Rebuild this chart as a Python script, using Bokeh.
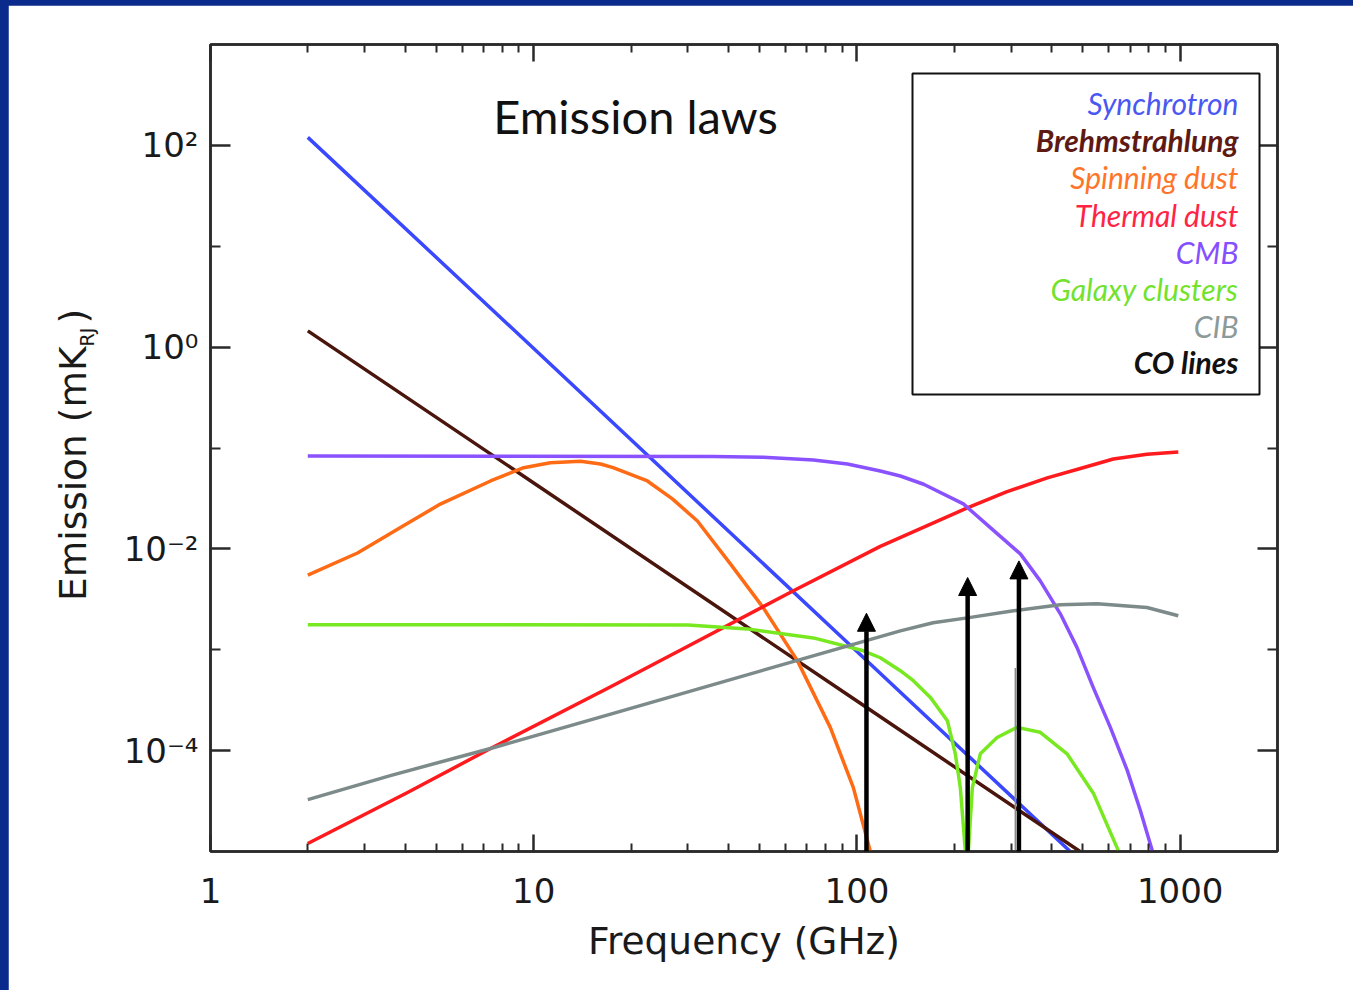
import math

from bokeh.embed import file_html
from bokeh.layouts import column
from bokeh.models import (Arrow, BoxAnnotation, ColumnDataSource, FixedTicker,
                          Label, LogAxis, NormalHead, Range1d)
from bokeh.plotting import figure
from bokeh.resources import INLINE

# ---------------------------------------------------------------------------
# Emission laws of the microwave foregrounds, frequency in GHz, emission in mK_RJ
# ---------------------------------------------------------------------------
sync_freq = [2.0, 10.0, 100.0, 457.0]
sync_val = [120.0, 0.97, 9.6e-4, 1.0e-5]

brems_freq = [2.0, 10.0, 100.0, 490.0]
brems_val = [1.45, 0.045, 3.1e-4, 1.0e-5]

spin_freq = [2.0, 2.85, 3.87, 5.14, 7.35, 9.31, 11.25, 12.99, 13.95, 16.1, 17.6,
             22.47, 26.85, 32.09, 40.59, 51.34, 65.41, 82.74, 97.46, 110.0]
spin_val = [0.0055, 0.0091, 0.0163, 0.0278, 0.0471, 0.0638, 0.0714, 0.0731, 0.0740,
            0.0694, 0.0638, 0.0471, 0.0313, 0.0189, 0.0071, 0.0026, 7.8e-4, 1.69e-4,
            4.3e-5, 1.0e-5]

dust_freq = [2.0, 4.07, 7.35, 17.3, 28.4, 63.6, 118.1, 219.5, 290.0, 388.0, 491.0,
             621.0, 789.0, 986.5]
dust_val = [1.2e-5, 3.84e-5, 1.05e-4, 4.3e-4, 9.9e-4, 3.84e-3, 1.06e-2, 2.55e-2,
            3.67e-2, 5.05e-2, 6.27e-2, 7.78e-2, 8.66e-2, 9.13e-2]

cmb_freq = [2.0, 36.0, 51.3, 73.3, 93.4, 118.1, 136.2, 160.8, 213.4, 258.6, 320.3,
            369.0, 425.8, 479.6, 538.5, 608.0, 686.2, 752.8, 819.8]
cmb_val = [0.0833, 0.0825, 0.0810, 0.0760, 0.0694, 0.0592, 0.0528, 0.0437, 0.0279,
           0.01625, 0.00892, 0.00482, 0.00227, 0.00105, 4.21e-4, 1.70e-4, 6.34e-5,
           2.55e-5, 1.02e-5]

sz_freq = [2.0, 30.0, 45.8, 73.3, 104.7, 118.1, 136.2, 149.4, 168.7, 190.4, 201.5,
           208.8, 216.4, 218.5, 221.1, 227.5, 240.8, 271.3, 312.6, 369.0, 446.6,
           539.9, 643.5]
sz_val = [0.00177, 0.00176, 0.00161, 0.00131, 9.77e-4, 8.33e-4, 6.2e-4, 4.93e-4,
          3.37e-4, 1.98e-4, 9.3e-5, 4.3e-5, 1.02e-5, 1.0e-6, 1.0e-5, 4.3e-5, 9.3e-5,
          1.35e-4, 1.70e-4, 1.52e-4, 9.3e-5, 3.73e-5, 1.02e-5]

cib_freq = [2.0, 3.6, 7.35, 17.3, 65.4, 136.2, 172.0, 219.5, 305.0, 425.8, 554.0,
            789.0, 986.5]
cib_val = [3.27e-5, 5.66e-5, 1.05e-4, 2.3e-4, 7.85e-4, 1.54e-3, 1.85e-3, 2.07e-3,
           2.43e-3, 2.79e-3, 2.85e-3, 2.62e-3, 2.17e-3]

# CO rotational lines drawn as arrows rising from the lower edge
co_freq = [107.0, 220.0, 317.0]
co_top = [2.3e-3, 5.2e-3, 7.6e-3]
co_base = [1.0e-5, 1.0e-5, 1.0e-5]

# faint marker just below the third CO line
guide_freq = [309.0]
guide_top = [6.6e-4]
guide_base = [1.0e-5]

x_major = [1, 10, 100, 1000]
x_minor = [m * d for d in (1, 10, 100) for m in range(2, 10)]
x_tick_labels = ["1", "10", "100", "1000"]

y_major = [1e-4, 1e-2, 1.0, 1e2]
y_minor = [1e-3, 1e-1, 1e1]
y_tick_labels = ["10\u207b\u2074", "10\u207b\u00b2", "10\u2070", "10\u00b2"]

series = [
    ("Synchrotron", sync_freq, sync_val, "#3a48ff", "#4a58f2", "italic"),
    ("Brehmstrahlung", brems_freq, brems_val, "#4a150c", "#5e1a12", "bold italic"),
    ("Spinning dust", spin_freq, spin_val, "#ff6a14", "#ff7428", "italic"),
    ("Thermal dust", dust_freq, dust_val, "#ff1a1e", "#ff2444", "italic"),
    ("CMB", cmb_freq, cmb_val, "#8a52ff", "#8450ff", "italic"),
    ("Galaxy clusters", sz_freq, sz_val, "#78e820", "#72e22c", "italic"),
    ("CIB", cib_freq, cib_val, "#7c8a8a", "#8c9a9a", "italic"),
]
co_label = ("CO lines", "#111111", "bold italic")

AXIS_COLOR = "#2a2a2a"
TEXT_COLOR = "#1a1a1a"
TICK_FONT = "DejaVu Sans"
NAVY = "#0a2a8c"

# the plot sits inside a navy page edge (8 px left, 5 px top)
OX, OY = 8, 5
W, H = 1353 - OX, 990 - OY

plot = figure(width=W, height=H, x_axis_type="log", y_axis_type="log",
              x_range=Range1d(1, 2000), y_range=Range1d(1e-5, 1e3),
              output_backend="svg", toolbar_location=None,
              min_border_left=210 - OX, min_border_right=76,
              min_border_top=44 - OY, min_border_bottom=139,
              background_fill_color="white", border_fill_color="white")
plot.grid.visible = False
plot.outline_line_color = AXIS_COLOR
plot.outline_line_width = 2.5

bottom_axis = plot.below[0]
left_axis = plot.left[0]

# curves
for name, f, v, line_color, _, _ in series:
    plot.line(f, v, line_color=line_color, line_width=3.5, line_join="round")

plot.segment(x0=guide_freq, y0=guide_base, x1=guide_freq, y1=guide_top,
             line_color="#8a8a8a", line_width=1.5)

co_src = ColumnDataSource(dict(f=co_freq, base=co_base, top=co_top))
plot.add_layout(Arrow(end=NormalHead(size=18, fill_color="black", line_color="black",
                                     line_width=1),
                      x_start="f", y_start="base", x_end="f", y_end="top",
                      source=co_src, line_color="black", line_width=4.5))

# axes: ticks point inwards on all four sides
top_axis = LogAxis()
right_axis = LogAxis()
plot.add_layout(top_axis, "above")
plot.add_layout(right_axis, "right")

for ax in (bottom_axis, top_axis):
    ax.ticker = FixedTicker(ticks=x_major, minor_ticks=x_minor)
    ax.major_tick_in, ax.major_tick_out = 17, 0
    ax.minor_tick_in, ax.minor_tick_out = 8, 0
for ax in (left_axis, right_axis):
    ax.ticker = FixedTicker(ticks=y_major, minor_ticks=y_minor)
    ax.major_tick_in, ax.major_tick_out = 20, 0
    ax.minor_tick_in, ax.minor_tick_out = 10, 0

for ax in (bottom_axis, top_axis, left_axis, right_axis):
    ax.axis_line_color = AXIS_COLOR
    ax.axis_line_width = 2.5
    ax.major_tick_line_color = AXIS_COLOR
    ax.major_tick_line_width = 2.5
    ax.minor_tick_line_color = AXIS_COLOR
    ax.minor_tick_line_width = 2
    ax.major_label_text_font = TICK_FONT
    ax.major_label_text_color = TEXT_COLOR

bottom_axis.major_label_overrides = dict(zip(x_major, x_tick_labels))
bottom_axis.major_label_text_font_size = "34px"
bottom_axis.major_label_standoff = 26
bottom_axis.axis_label = "Frequency (GHz)"
bottom_axis.axis_label_text_font = TICK_FONT
bottom_axis.axis_label_text_font_size = "37.5px"
bottom_axis.axis_label_text_font_style = "normal"
bottom_axis.axis_label_text_color = TEXT_COLOR
bottom_axis.axis_label_standoff = 13

left_axis.major_label_overrides = dict(zip(y_major, y_tick_labels))
left_axis.major_label_text_font_size = "34px"
left_axis.major_label_standoff = 12

for ax, ticks in ((top_axis, x_major), (right_axis, y_major)):
    ax.major_label_overrides = {t: "" for t in ticks}
    ax.major_label_text_font_size = "0px"
    ax.major_label_standoff = 0

# y axis title with a subscript, kept in the left side panel so it is not clipped
label_kw = dict(x_units="canvas", y_units="canvas", angle=math.pi / 2,
                text_font=TICK_FONT, text_color=TEXT_COLOR, text_baseline="middle")
plot.add_layout(Label(x=72 - OX, y=346 - OY, text="Emission (mK", text_align="right",
                      text_font_size="37.5px", **label_kw), "left")
plot.add_layout(Label(x=86 - OX, y=346 - OY, text="RJ", text_align="left",
                      text_font_size="19px", **label_kw), "left")
plot.add_layout(Label(x=72 - OX, y=323 - OY, text=")", text_align="left",
                      text_font_size="37.5px", **label_kw), "left")

# title inside the frame
plot.add_layout(Label(x=635 - OX, y=115 - OY, x_units="canvas", y_units="canvas",
                      text="Emission laws", text_align="center",
                      text_baseline="alphabetic", text_font="Lato",
                      text_font_size="47px", text_color="#111111"))

# legend: coloured names, right aligned, in a framed box
plot.add_layout(BoxAnnotation(left=912 - OX, right=1259 - OX, top=73 - OY, bottom=394 - OY,
                              left_units="canvas", right_units="canvas",
                              top_units="canvas", bottom_units="canvas",
                              fill_color="white", fill_alpha=1.0,
                              line_color="#111111", line_width=2, line_alpha=1.0))
legend_rows = [(name, tc, style) for name, _, _, _, tc, style in series] + [co_label]
legend_baselines = [102, 139, 176, 214, 251, 288, 325, 361]
for (name, color, style), yb in zip(legend_rows, legend_baselines):
    plot.add_layout(Label(x=1238 - OX, y=yb - OY, x_units="canvas", y_units="canvas",
                          text=name, text_align="right", text_baseline="alphabetic",
                          text_font="Lato", text_font_style=style,
                          text_font_size="30px", text_color=color))

p = column(plot, styles={"background-color": NAVY,
                         "padding-left": f"{OX}px", "padding-top": f"{OY}px"})
open("out.html", "w").write(file_html(p, INLINE))
